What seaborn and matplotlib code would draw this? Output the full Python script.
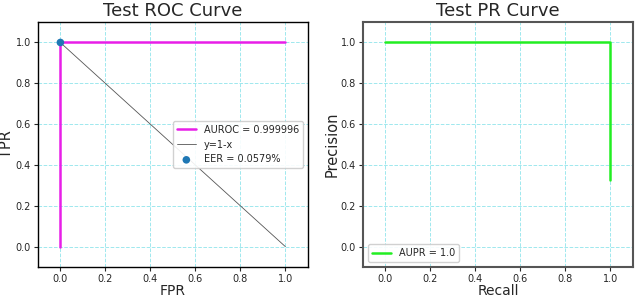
import matplotlib
matplotlib.use("Agg")
import matplotlib.pyplot as plt
import seaborn as sns
import pandas as pd

# ROC data
fpr = [0.0, 0.0, 1.0]
tpr = [0.0, 1.0, 1.0]
diag_x = [0.0, 1.0]
diag_y = [1.0, 0.0]
eer_x = [0.000579]
eer_y = [1.0]
auroc_label = "AUROC = 0.999996"
eer_label = "EER = 0.0579%"

# PR data
recall = [0.0, 1.0, 1.0]
precision = [1.0, 1.0, 0.324]
aupr_label = "AUPR = 1.0"

ticks = [0.0, 0.2, 0.4, 0.6, 0.8, 1.0]

sns.set_style("ticks")
plt.rcParams['font.family'] = ['DejaVu Sans']

fig = plt.figure(figsize=(6.4, 2.98), dpi=100)
ax1 = fig.add_axes([0.059, 0.104, 0.422, 0.822])
ax2 = fig.add_axes([0.567, 0.104, 0.422, 0.822])

roc = pd.DataFrame({"FPR": fpr, "TPR": tpr})
sns.lineplot(data=roc, x="FPR", y="TPR", ax=ax1, color="#e81ee8", lw=1.8,
             sort=False, estimator=None, label=auroc_label)
sns.lineplot(x=diag_x, y=diag_y, ax=ax1, color="#555555", lw=0.6, ls="-",
             sort=False, estimator=None, label="y=1-x")
sns.scatterplot(x=eer_x, y=eer_y, ax=ax1, color="#1f77b4", s=30, zorder=5,
                edgecolor="none", label=eer_label)

pr = pd.DataFrame({"Recall": recall, "Precision": precision})
sns.lineplot(data=pr, x="Recall", y="Precision", ax=ax2, color="#22ee22", lw=1.8,
             sort=False, estimator=None, label=aupr_label)

for ax, title in [(ax1, "Test ROC Curve"), (ax2, "Test PR Curve")]:
    ax.set_xlim(-0.1, 1.1)
    ax.set_ylim(-0.1, 1.1)
    ax.set_xticks(ticks)
    ax.set_yticks(ticks)
    ax.tick_params(labelsize=7, length=3, width=0.8, pad=2)
    ax.grid(True, color="#9fe8ee", ls="--", lw=0.7)
    ax.set_title(title, fontsize=13, pad=4)
    ax.set_xlabel(ax.get_xlabel(), fontsize=10, labelpad=0)
    ax.set_ylabel(ax.get_ylabel(), fontsize=10.5, labelpad=1)
    for s in ax.spines.values():
        s.set_visible(True)

for s in ax1.spines.values():
    s.set_color("black")
    s.set_linewidth(1.0)
for s in ax2.spines.values():
    s.set_color("#555555")
    s.set_linewidth(1.5)

ax1.legend(loc="center right", fontsize=7, framealpha=0.9)
ax2.legend(loc="lower left", fontsize=7, framealpha=0.9)

fig.savefig("out.png", dpi=100)
